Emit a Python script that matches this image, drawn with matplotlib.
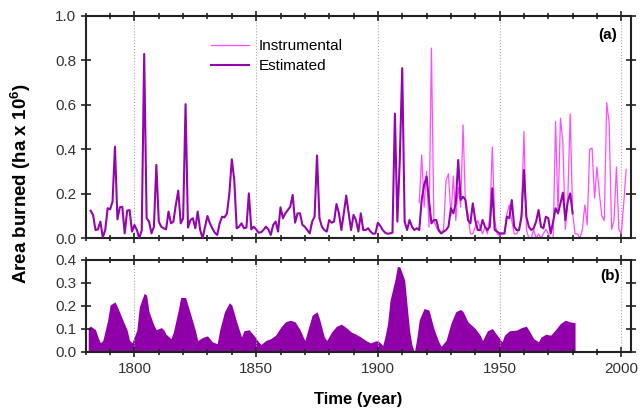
import numpy as np
import matplotlib
matplotlib.use("Agg")
import matplotlib.pyplot as plt
from matplotlib.ticker import MultipleLocator, FormatStrFormatter
from matplotlib.lines import Line2D

plt.rcParams['font.family'] = ['Liberation Sans', 'DejaVu Sans']
plt.rcParams['mathtext.fontset'] = 'custom'
plt.rcParams['mathtext.rm'] = 'Liberation Sans'
plt.rcParams['mathtext.bf'] = 'Liberation Sans:bold'

# estimated area burned (annual, 1782-1980)
est_start = 1782
estimated = [
    0.124, 0.105, 0.037, 0.040, 0.075, 0.004, 0.037, 0.135, 0.130, 0.165,
    0.412, 0.085, 0.139, 0.142, 0.022, 0.124, 0.127, 0.030, 0.060, 0.037,
    0.000, 0.037, 0.829, 0.090, 0.075, 0.022, 0.052, 0.330, 0.075, 0.052,
    0.045, 0.040, 0.120, 0.067, 0.075, 0.150, 0.214, 0.067, 0.090, 0.603,
    0.048, 0.082, 0.090, 0.045, 0.120, 0.037, 0.000, 0.052, 0.100, 0.067,
    0.045, 0.025, 0.015, 0.067, 0.097, 0.094, 0.112, 0.202, 0.355, 0.262,
    0.045, 0.052, 0.067, 0.045, 0.048, 0.202, 0.040, 0.052, 0.040, 0.025,
    0.027, 0.037, 0.052, 0.040, 0.015, 0.060, 0.075, 0.030, 0.139, 0.090,
    0.112, 0.127, 0.142, 0.195, 0.070, 0.112, 0.112, 0.060, 0.052, 0.037,
    0.022, 0.075, 0.097, 0.372, 0.090, 0.052, 0.037, 0.030, 0.082, 0.070,
    0.075, 0.154, 0.112, 0.037, 0.112, 0.192, 0.112, 0.037, 0.105, 0.082,
    0.030, 0.112, 0.037, 0.037, 0.045, 0.030, 0.020, 0.022, 0.070, 0.055,
    0.037, 0.025, 0.020, 0.022, 0.025, 0.560, 0.075, 0.350, 0.765, 0.075,
    0.037, 0.082, 0.052, 0.037, 0.045, 0.037, 0.172, 0.240, 0.277, 0.172,
    0.067, 0.082, 0.082, 0.037, 0.022, 0.030, 0.037, 0.052, 0.135, 0.112,
    0.157, 0.352, 0.172, 0.187, 0.172, 0.082, 0.067, 0.157, 0.082, 0.037,
    0.037, 0.082, 0.052, 0.037, 0.052, 0.225, 0.037, 0.030, 0.022, 0.022,
    0.022, 0.097, 0.090, 0.172, 0.052, 0.037, 0.037, 0.097, 0.307, 0.097,
    0.052, 0.037, 0.045, 0.075, 0.127, 0.052, 0.045, 0.097, 0.090, 0.022,
    0.075, 0.135, 0.112, 0.157, 0.205, 0.082, 0.165, 0.202, 0.112,
]
est_years = np.arange(est_start, est_start + len(estimated))

# instrumental record (annual, 1917-2002)
ins_start = 1917
instrumental = [
    0.16, 0.375, 0.14, 0.30, 0.05, 0.855, 0.08, 0.05, 0.03, 0.02,
    0.04, 0.26, 0.29, 0.10, 0.28, 0.08, 0.23, 0.14, 0.51, 0.14,
    0.11, 0.02, 0.02, 0.05, 0.08, 0.05, 0.02, 0.05, 0.02, 0.10,
    0.41, 0.08, 0.02, 0.01, 0.02, 0.02, 0.11, 0.15, 0.08, 0.02,
    0.02, 0.04, 0.11, 0.48, 0.04, 0.00, 0.00, 0.04, 0.00, 0.02,
    0.00, 0.02, 0.04, 0.02, 0.00, 0.00, 0.525, 0.11, 0.54, 0.43,
    0.04, 0.17, 0.56, 0.11, 0.02, 0.02, 0.00, 0.04, 0.15, 0.06,
    0.40, 0.405, 0.18, 0.32, 0.20, 0.10, 0.08, 0.61, 0.52, 0.04,
    0.08, 0.32, 0.04, 0.02, 0.157, 0.31,
]
ins_years = np.arange(ins_start, ins_start + len(instrumental))

# smoothed series (panel b)
smooth_years = [
    1781, 1782, 1784, 1785, 1786, 1787, 1789, 1790, 1792, 1793, 1795, 1797,
    1798, 1799, 1801, 1802, 1804, 1805, 1806, 1808, 1809, 1811, 1812, 1813,
    1815, 1816, 1818, 1819, 1821, 1823, 1825, 1826, 1828, 1830, 1832, 1834,
    1835, 1837, 1839, 1840, 1842, 1844, 1845, 1847, 1849, 1851, 1852, 1854,
    1856, 1858, 1860, 1862, 1864, 1866, 1868, 1870, 1871, 1873, 1875, 1876,
    1878, 1879, 1881, 1883, 1885, 1887, 1889, 1891, 1893, 1895, 1897, 1899,
    1900, 1901, 1902, 1903, 1904, 1905, 1907, 1908, 1909, 1911, 1912, 1913,
    1914, 1915, 1916, 1917, 1918, 1919, 1921, 1923, 1925, 1926, 1928, 1930,
    1932, 1934, 1935, 1937, 1940, 1942, 1943, 1945, 1947, 1949, 1951, 1952,
    1954, 1957, 1959, 1961, 1962, 1964, 1966, 1967, 1969, 1971, 1973, 1975,
    1977, 1979, 1981,
]
smoothed = [
    0.106, 0.112, 0.097, 0.065, 0.040, 0.050, 0.138, 0.204, 0.218, 0.196, 0.145, 0.095,
    0.050, 0.040, 0.095, 0.196, 0.255, 0.247, 0.175, 0.116, 0.097, 0.106, 0.097, 0.077,
    0.058, 0.087, 0.182, 0.237, 0.237, 0.167, 0.095, 0.050, 0.063, 0.070, 0.044, 0.036,
    0.095, 0.175, 0.214, 0.204, 0.131, 0.065, 0.092, 0.097, 0.073, 0.044, 0.033, 0.050,
    0.058, 0.073, 0.106, 0.131, 0.138, 0.131, 0.097, 0.050, 0.087, 0.160, 0.175, 0.145,
    0.065, 0.050, 0.087, 0.112, 0.121, 0.106, 0.087, 0.077, 0.065, 0.050, 0.039, 0.048,
    0.048, 0.040, 0.028, 0.070, 0.124, 0.225, 0.313, 0.371, 0.371, 0.313, 0.204, 0.095,
    0.030, 0.000, 0.060, 0.140, 0.165, 0.189, 0.182, 0.102, 0.044, 0.025, 0.050, 0.124,
    0.175, 0.185, 0.175, 0.131, 0.102, 0.073, 0.050, 0.092, 0.102, 0.073, 0.044, 0.073,
    0.092, 0.095, 0.106, 0.112, 0.095, 0.058, 0.044, 0.065, 0.077, 0.073, 0.097, 0.124,
    0.138, 0.131, 0.127,
]

grid_years = [1800, 1850, 1900, 1950, 2000]

est_color = '#9306AD'
ins_color = '#FF4CFF'
fill_color = '#8F00A8'

fig = plt.figure(figsize=(6.4, 4.18), dpi=100)
ax1 = fig.add_axes([0.134, 0.430, 0.852, 0.532])
ax2 = fig.add_axes([0.134, 0.158, 0.852, 0.220])

# panel (a)
ax1.plot(ins_years, instrumental, color=ins_color, lw=0.9, zorder=2)
ax1.plot(est_years, estimated, color=est_color, lw=1.5, zorder=3)
ax1.set_ylim(0, 1.0)
ax1.yaxis.set_major_locator(MultipleLocator(0.2))
ax1.tick_params(axis='x', labelbottom=False)
ax1.text(0.975, 0.915, '(a)', transform=ax1.transAxes, ha='right', va='center',
         fontsize=11, fontweight='bold')
handles = [Line2D([], [], color=ins_color, lw=0.9),
           Line2D([], [], color=est_color, lw=1.5)]
ax1.legend(handles, ['Instrumental', 'Estimated'], loc='upper left',
           bbox_to_anchor=(0.23, 0.895), frameon=False, fontsize=11,
           handlelength=2.5, handletextpad=0.6, labelspacing=0.4,
           borderpad=0, borderaxespad=0)

# panel (b)
ax2.fill_between(smooth_years, smoothed, 0, color=fill_color, lw=0)
ax2.set_ylim(0, 0.4)
ax2.yaxis.set_major_locator(MultipleLocator(0.1))
ax2.text(0.98, 0.83, '(b)', transform=ax2.transAxes, ha='right', va='center',
         fontsize=11, fontweight='bold')
ax2.set_xlabel('Time (year)', fontsize=12, fontweight='bold', labelpad=12)

for ax in (ax1, ax2):
    ax.set_xlim(1780, 2004)
    ax.xaxis.set_major_locator(MultipleLocator(50))
    ax.xaxis.set_minor_locator(MultipleLocator(10))
    ax.yaxis.set_major_formatter(FormatStrFormatter('%.1f'))
    for g in grid_years:
        ax.axvline(g, color='#aaaaaa', ls=':', lw=0.8, zorder=1)
    ax.tick_params(which='both', direction='inout', top=True, right=True,
                   labelsize=11, width=1.2, colors='#222222', labelcolor='#333333')
    ax.tick_params(which='major', length=7)
    ax.tick_params(which='minor', length=5)
    for s in ax.spines.values():
        s.set_linewidth(1.5)
        s.set_color('#222222')

fig.text(0.032, 0.56, r'Area burned (ha x 10$^{\mathbf{6}}$)', rotation=90,
         ha='center', va='center', fontsize=13.5, fontweight='bold')

fig.savefig('out.png', dpi=100)
